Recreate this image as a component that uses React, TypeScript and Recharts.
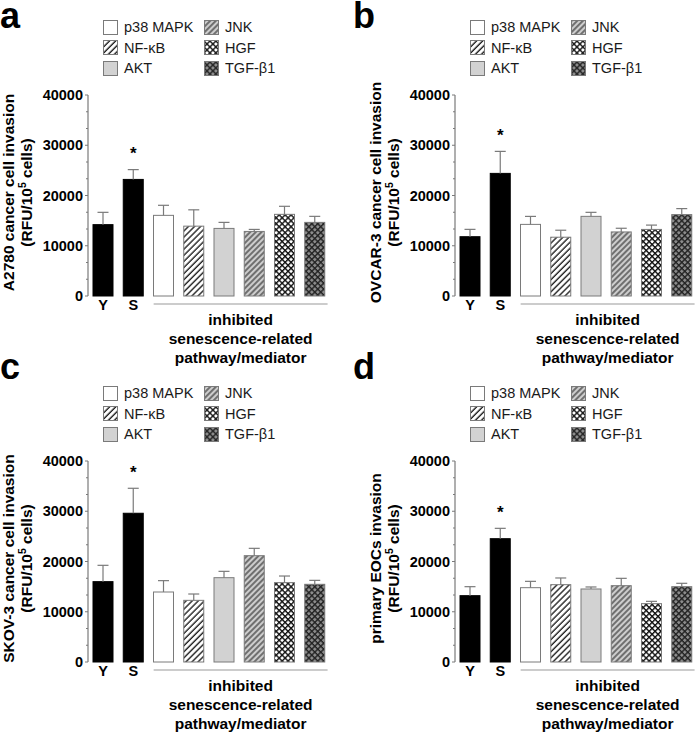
import React from "react";
import { BarChart, Bar, XAxis, YAxis, Cell, Legend } from "recharts";

// groups shared by all four panels
const groups = ["Y", "S", "p38 MAPK", "NF-κB", "AKT", "JNK", "HGF", "TGF-β1"];
const fills = ["black", "black", "white", "hatch", "gray", "grayHatch", "check", "darkCheck"];
const marks = ["", "*", "", "", "", "", "", ""];
const yTicks = [0, 10000, 20000, 30000, 40000];

// values (mean and upper SEM)
const a2780Mean = [14200, 23200, 16050, 13900, 13450, 12850, 16250, 14650];
const a2780Sem = [2450, 1950, 2000, 3250, 1200, 400, 1600, 1200];
const ovcarMean = [11800, 24400, 14250, 11700, 15850, 12750, 13250, 16200];
const ovcarSem = [1460, 4380, 1590, 1390, 800, 730, 860, 1190];
const skovMean = [15990, 29600, 13930, 12270, 16780, 21160, 15790, 15460];
const skovSem = [3250, 4970, 2260, 1260, 1260, 1460, 1320, 790];
const eocMean = [13200, 24540, 14790, 15390, 14530, 15190, 11610, 14990];
const eocSem = [1790, 2060, 1260, 1330, 400, 1460, 460, 670];

const FONT = "'Liberation Sans', Arial, sans-serif";
const GRAY = "#7a7a7a";

const minorTicks = yTicks.slice(1).flatMap((t, i) => {
  const step = (t - yTicks[i]) / 3;
  return [yTicks[i] + step, yTicks[i] + 2 * step];
});
const allTicks = [...yTicks, ...minorTicks].sort((p, q) => p - q);

const panels = [
  { id: "a", label: "A2780 cancer cell invasion", mean: a2780Mean, sem: a2780Sem, left: 0, top: 0 },
  { id: "b", label: "OVCAR-3 cancer cell invasion", mean: ovcarMean, sem: ovcarSem, left: 367, top: 0 },
  { id: "c", label: "SKOV-3 cancer cell invasion", mean: skovMean, sem: skovSem, left: 0, top: 366 },
  { id: "d", label: "primary EOCs invasion", mean: eocMean, sem: eocSem, left: 367, top: 366 },
];

function Patterns({ p }: { p: string }) {
  return (
    <defs>
      <pattern id={`${p}-hatch`} width={4.3} height={4.3} patternUnits="userSpaceOnUse" patternTransform="rotate(45)">
        <rect width={4.3} height={4.3} fill="#fff" />
        <line x1={1} y1={0} x2={1} y2={4.3} stroke="#111" strokeWidth={1.3} />
      </pattern>
      <pattern id={`${p}-grayHatch`} width={4} height={4} patternUnits="userSpaceOnUse" patternTransform="rotate(45)">
        <rect width={4} height={4} fill="#cdcdcd" />
        <line x1={1} y1={0} x2={1} y2={4} stroke="#222" strokeWidth={1.1} />
      </pattern>
      <pattern id={`${p}-check`} width={4.2} height={4.2} patternUnits="userSpaceOnUse" patternTransform="rotate(45)">
        <rect width={4.2} height={4.2} fill="#fff" />
        <line x1={0} y1={0.7} x2={4.2} y2={0.7} stroke="#111" strokeWidth={1.4} />
        <line x1={0.7} y1={0} x2={0.7} y2={4.2} stroke="#111" strokeWidth={1.4} />
      </pattern>
      <pattern id={`${p}-darkCheck`} width={4.2} height={4.2} patternUnits="userSpaceOnUse" patternTransform="rotate(45)">
        <rect width={4.2} height={4.2} fill="#8c8c8c" />
        <line x1={0} y1={0.7} x2={4.2} y2={0.7} stroke="#222" strokeWidth={1.4} />
        <line x1={0.7} y1={0} x2={0.7} y2={4.2} stroke="#222" strokeWidth={1.4} />
      </pattern>
    </defs>
  );
}

function fillFor(p: string, key: string) {
  if (key === "black") return "#000";
  if (key === "white") return "#fff";
  if (key === "gray") return "#d2d2d2";
  return `url(#${p}-${key})`;
}

function BarWithError(props: any) {
  const { x, y, width, height, fill, stroke, payload } = props;
  const pxPerUnit = height / payload.mean;
  const top = y - payload.sem * pxPerUnit;
  const cx = x + width / 2;
  return (
    <g>
      <rect x={x} y={y} width={width} height={height} fill={fill} stroke={stroke} strokeWidth={1} />
      <line x1={cx} x2={cx} y1={y} y2={top} stroke={GRAY} strokeWidth={1.2} />
      <line x1={cx - 5.5} x2={cx + 5.5} y1={top} y2={top} stroke={GRAY} strokeWidth={1.2} />
      {payload.mark && (
        <text x={cx} y={top - 10.5} textAnchor="middle" fontSize={17} fontWeight="bold" fontFamily={FONT} fill="#000">
          {payload.mark}
        </text>
      )}
    </g>
  );
}

function YTick(props: any) {
  const { x, y, payload } = props;
  const major = yTicks.includes(payload.value);
  return (
    <g>
      <line x1={x - (major ? 3 : 2)} x2={x} y1={y} y2={y} stroke={GRAY} strokeWidth={1} />
      {major && (
        <text x={x - 5} y={y} dy="0.36em" textAnchor="end" fontSize={14.5} fontWeight="bold" fontFamily={FONT} fill="#000">
          {payload.value}
        </text>
      )}
    </g>
  );
}

function XTick(props: any) {
  const { x, y, payload, index } = props;
  if (index > 1) return null;
  return (
    <text x={x} y={y + 14} textAnchor="middle" fontSize={14.5} fontWeight="bold" fontFamily={FONT} fill="#000">
      {payload.value}
    </text>
  );
}

function XLabel(props: any) {
  const { x, y, width } = props.viewBox;
  const band = width / groups.length;
  const x1 = x + band * 2 + band * 0.17;
  const x2 = x + band * groups.length - band * 0.08;
  const mid = (x1 + x2) / 2;
  const t = { textAnchor: "middle" as const, fontSize: 15.5, fontWeight: "bold", fontFamily: FONT, fill: "#000" };
  return (
    <g>
      <line x1={x1} x2={x2} y1={y + 8} y2={y + 8} stroke="#999" strokeWidth={1.2} />
      <text x={mid} y={y + 29} {...t}>inhibited</text>
      <text x={mid} y={y + 48} {...t}>senescence-related</text>
      <text x={mid} y={y + 67} {...t}>pathway/mediator</text>
    </g>
  );
}

function YLabel({ viewBox, text }: any) {
  const cy = viewBox.y + viewBox.height / 2 - 3;
  const t = { textAnchor: "middle" as const, fontSize: 15.5, fontWeight: "bold", fontFamily: FONT, fill: "#000" };
  const x1 = viewBox.x + 13.5;
  const x2 = viewBox.x + 31.5;
  return (
    <g>
      <text x={x1} y={cy} transform={`rotate(-90, ${x1}, ${cy})`} {...t}>{text}</text>
      <text x={x2} y={cy} transform={`rotate(-90, ${x2}, ${cy})`} {...t}>
        (RFU/10<tspan dy={-6} fontSize={10.5}>5</tspan><tspan dy={6}> cells)</tspan>
      </text>
    </g>
  );
}

function LegendBox({ p }: { p: string }) {
  const items = groups.slice(2);
  const fillKeys = fills.slice(2);
  const cols = [0, 1];
  return (
    <div style={{ display: "flex", fontFamily: FONT, fontSize: 14.5, color: "#1a1a1a" }}>
      {cols.map((c) => (
        <div key={c} style={{ width: 101 }}>
          {items.slice(c * 3, c * 3 + 3).map((name, i) => (
            <div key={name} style={{ display: "flex", alignItems: "center", height: 20.5 }}>
              <svg width={15} height={15} style={{ marginRight: 6 }}>
                <rect x={0.5} y={0.5} width={14} height={14} fill={fillFor(p, fillKeys[c * 3 + i])} stroke={GRAY} />
              </svg>
              <span>{name}</span>
            </div>
          ))}
        </div>
      ))}
    </div>
  );
}

function Panel({ panel }: { panel: typeof panels[number] }) {
  const data = groups.map((g, i) => ({
    group: g,
    mean: panel.mean[i],
    sem: panel.sem[i],
    mark: marks[i],
  }));
  const p = `pat-${panel.id}`;
  return (
    <div style={{ position: "absolute", left: panel.left, top: panel.top, width: 340, height: 366 }}>
      <BarChart width={340} height={366} data={data} margin={{ top: 95, right: 10, bottom: 10, left: 0 }}>
        <Patterns p={p} />
        <YAxis
          domain={[0, 40000]}
          ticks={allTicks}
          interval={0}
          width={88}
          tickSize={0}
          tickMargin={0}
          tickLine={false}
          axisLine={{ stroke: GRAY, strokeWidth: 1.2 }}
          tick={<YTick />}
          label={{ content: (lp: any) => <YLabel viewBox={lp.viewBox} text={panel.label} /> }}
        />
        <XAxis
          dataKey="group"
          axisLine={false}
          tickLine={false}
          tickSize={0}
          tickMargin={0}
          interval={0}
          height={60}
          tick={<XTick />}
          label={{ content: (lp: any) => <XLabel viewBox={lp.viewBox} /> }}
        />
        <Legend
          layout="horizontal"
          verticalAlign="middle"
          align="center"
          wrapperStyle={{ top: 17, left: 103, width: 230 }}
          content={() => <LegendBox p={p} />}
        />
        <Bar dataKey="mean" barSize={20} isAnimationActive={false} shape={<BarWithError />}>
          {data.map((d, i) => (
            <Cell
              key={d.group}
              fill={fillFor(p, fills[i])}
              stroke={fills[i] === "black" ? "#000" : GRAY}
            />
          ))}
        </Bar>
      </BarChart>
    </div>
  );
}

export default function App() {
  const letterStyle = {
    position: "absolute" as const,
    fontFamily: FONT,
    fontWeight: "bold" as const,
    fontSize: 36,
    lineHeight: "30px",
    color: "#000",
  };
  return (
    <div style={{ position: "absolute", left: 0, top: 0, width: 698, height: 732, background: "#fff", overflow: "hidden" }}>
      {panels.map((panel) => (
        <Panel key={panel.id} panel={panel} />
      ))}
      <div style={{ ...letterStyle, left: 0, top: 1 }}>a</div>
      <div style={{ ...letterStyle, left: 353, top: 1 }}>b</div>
      <div style={{ ...letterStyle, left: 0, top: 352 }}>c</div>
      <div style={{ ...letterStyle, left: 353, top: 352 }}>d</div>
    </div>
  );
}
